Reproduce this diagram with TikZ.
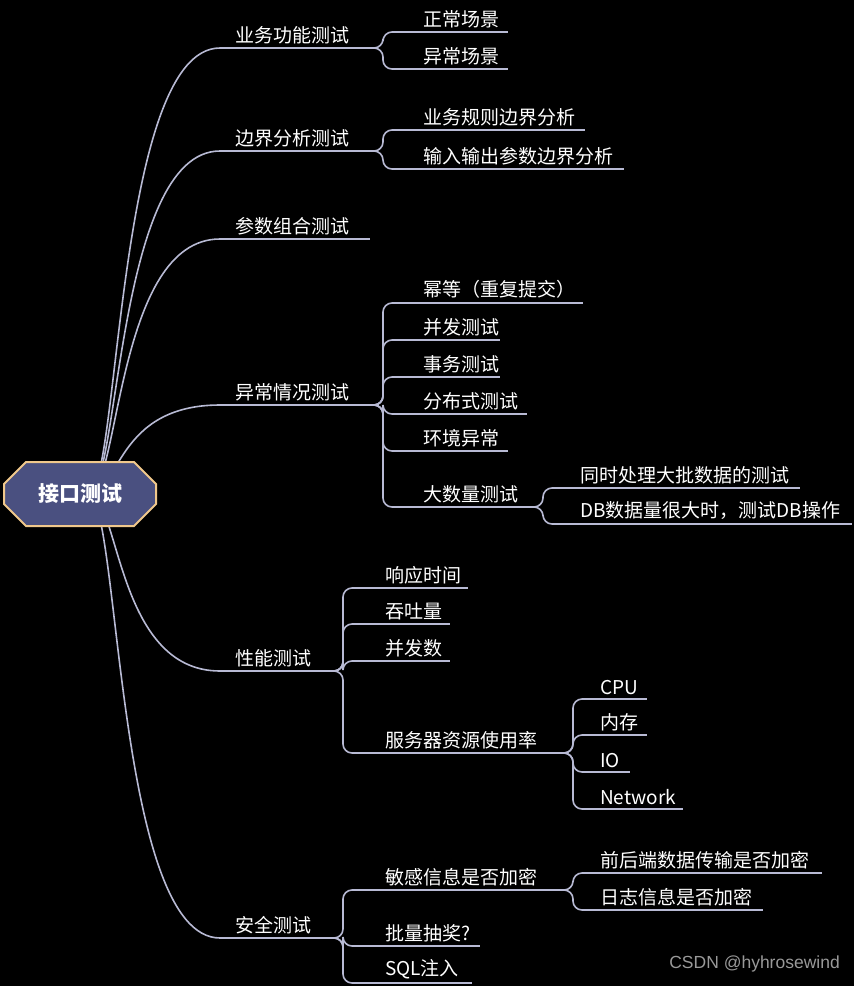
\documentclass[tikz,border=0pt]{standalone}
\usepackage{fontspec}
\newfontfamily\cjk{Noto Sans CJK SC}
\usetikzlibrary{shapes.misc}
\definecolor{ln}{RGB}{184,186,212}
\definecolor{rootf}{RGB}{74,80,128}
\definecolor{rootb}{RGB}{240,200,140}
\newcommand\tnode[5]{\coordinate (#1s) at (#2,#4); \coordinate (#1e) at (#3,#4);
  \draw[ul] (#1s) -- (#1e); \node[lab] (#1) at (#2+15,#4-4) {#5};}
\newcommand\br[2]{\draw[ul,rounded corners=9] (#1e) -- ++(13,0) |- (#2s);}
\begin{document}
\begin{tikzpicture}[x=1pt,y=-1pt,
  ul/.style={draw=ln,line width=1.6pt},
  lab/.style={anchor=south west,inner sep=0pt,text=white,font=\cjk\fontsize{19}{21}\selectfont},
  rootnode/.style={chamfered rectangle,draw=rootb,fill=rootf,line width=2pt,
    minimum width=152pt,minimum height=64pt,text=white,font=\cjk\bfseries\fontsize{21}{24}\selectfont}]
\fill[black] (0,0) rectangle (854,986);
\useasboundingbox (0,0) rectangle (854,986);
\coordinate (rc) at (88,494);
\tnode{a}{220}{370}{48}{业务功能测试}
\tnode{b}{220}{370}{151}{边界分析测试}
\tnode{c}{220}{370}{239}{参数组合测试}
\tnode{d}{220}{370}{405}{异常情况测试}
\tnode{e}{220}{330}{671}{性能测试}
\tnode{f}{220}{330}{938}{安全测试}
\foreach \n in {a,b,c,d,e,f}{
  \path (\n s) coordinate (tmp);
  \draw[ul] (rc) .. controls (120,494) and (115,0 |- tmp) .. (tmp) ;
}
% level 2
\tnode{a1}{408}{508}{32}{正常场景}
\tnode{a2}{408}{508}{69}{异常场景}
\tnode{b1}{408}{585}{130}{业务规则边界分析}
\tnode{b2}{408}{624}{169}{输入输出参数边界分析}
\tnode{d1}{408}{583}{303}{幂等（重复提交）}
\tnode{d2}{408}{500}{340}{并发测试}
\tnode{d3}{408}{500}{377}{事务测试}
\tnode{d4}{408}{527}{414}{分布式测试}
\tnode{d5}{408}{508}{451}{环境异常}
\tnode{d6}{408}{530}{507}{大数量测试}
\tnode{d61}{565}{800}{488}{同时处理大批数据的测试}
\tnode{d62}{565}{852}{524}{DB数据量很大时，测试DB操作}
\tnode{e1}{370}{468}{588}{响应时间}
\tnode{e2}{370}{450}{624}{吞吐量}
\tnode{e3}{370}{450}{661}{并发数}
\tnode{e4}{370}{560}{753}{服务器资源使用率}
\tnode{e41}{585}{647}{699}{CPU}
\tnode{e42}{585}{647}{735}{内存}
\tnode{e43}{585}{630}{772}{IO}
\tnode{e44}{585}{683}{809}{Network}
\tnode{f1}{370}{560}{890}{敏感信息是否加密}
\tnode{f11}{585}{822}{873}{前后端数据传输是否加密}
\tnode{f12}{585}{763}{910}{日志信息是否加密}
\tnode{f2}{370}{480}{946}{批量抽奖?}
\tnode{f3}{370}{472}{983}{SQL注入}
\foreach \p/\c in {a/a1,a/a2,b/b1,b/b2,d/d1,d/d2,d/d3,d/d4,d/d5,d/d6,d6/d61,d6/d62,
  e/e1,e/e2,e/e3,e/e4,e4/e41,e4/e42,e4/e43,e4/e44,f/f1,f/f2,f/f3,f1/f11,f1/f12}{\br{\p}{\c}}
\node[rootnode,chamfered rectangle xsep=10pt,chamfered rectangle ysep=12pt] (root) at (80,494) {接口测试};
\node[anchor=south east,inner sep=0pt,text=gray!80,font=\fontspec{Liberation Sans}\fontsize{17.5}{19}\selectfont] (wm) at (840,972) {CSDN @hyhrosewind};
\end{tikzpicture}
\end{document}
